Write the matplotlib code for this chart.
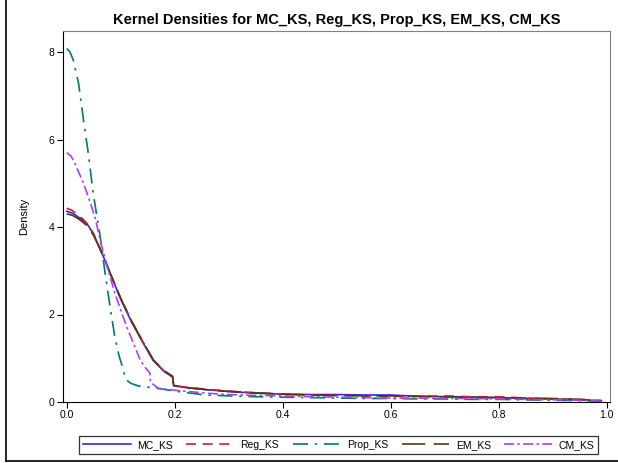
import numpy as np
import matplotlib.pyplot as plt
from matplotlib.lines import Line2D

plt.rcParams['font.family'] = ['Liberation Sans', 'DejaVu Sans']

# Estimated kernel density curves
main_x = [0.0, 0.01, 0.02, 0.03, 0.04, 0.05, 0.06, 0.07, 0.08, 0.09, 0.10, 0.12,
          0.14, 0.16, 0.18, 0.196, 0.198,
          0.22, 0.26, 0.30, 0.35, 0.40, 0.45, 0.50, 0.55, 0.60, 0.65, 0.70, 0.75,
          0.80, 0.85, 0.90, 0.95, 0.99]
mc_y = [4.36, 4.32, 4.24, 4.15, 4.03, 3.82, 3.55, 3.26, 2.95, 2.65, 2.35, 1.83,
        1.38, 0.95, 0.70, 0.57, 0.37,
        0.33, 0.28, 0.24, 0.20, 0.18, 0.17, 0.17, 0.16, 0.16, 0.13, 0.12, 0.11,
        0.10, 0.08, 0.07, 0.05, 0.03]
reg_y = [4.43, 4.38, 4.28, 4.18, 4.05, 3.84, 3.56, 3.27, 2.96, 2.66, 2.37, 1.85,
         1.40, 0.97, 0.71, 0.58, 0.38,
         0.34, 0.29, 0.25, 0.21, 0.18, 0.16, 0.15, 0.14, 0.13, 0.13, 0.14, 0.12,
         0.12, 0.09, 0.07, 0.06, 0.03]
em_y = [4.30, 4.27, 4.20, 4.11, 4.00, 3.80, 3.54, 3.26, 2.96, 2.66, 2.37, 1.85,
        1.40, 0.97, 0.72, 0.59, 0.38,
        0.33, 0.28, 0.24, 0.21, 0.18, 0.16, 0.15, 0.14, 0.14, 0.13, 0.12, 0.11,
        0.10, 0.09, 0.08, 0.06, 0.03]

prop_x = [0.0, 0.006, 0.012, 0.022, 0.031, 0.04, 0.049, 0.062, 0.071, 0.08, 0.089, 0.097,
          0.105, 0.109, 0.115, 0.12, 0.132, 0.15, 0.164, 0.20, 0.256, 0.30, 0.35, 0.40,
          0.45, 0.50, 0.55, 0.60, 0.65, 0.70, 0.75, 0.80, 0.85, 0.90, 0.95, 0.99]
prop_y = [8.08, 8.00, 7.82, 7.28, 6.45, 5.68, 4.77, 3.78, 2.95, 2.20, 1.49, 1.05,
          0.73, 0.52, 0.46, 0.42, 0.37, 0.34, 0.32, 0.25, 0.16, 0.14, 0.12, 0.11,
          0.10, 0.09, 0.08, 0.08, 0.07, 0.07, 0.06, 0.06, 0.05, 0.04, 0.03, 0.02]

cm_x = [0.0, 0.008, 0.015, 0.031, 0.04, 0.052, 0.065, 0.077, 0.089, 0.10, 0.111, 0.124,
        0.136, 0.146, 0.154, 0.155, 0.17, 0.20, 0.225, 0.26, 0.30, 0.35, 0.40,
        0.45, 0.50, 0.55, 0.60, 0.65, 0.70, 0.75, 0.80, 0.85, 0.90, 0.95, 0.99]
cm_y = [5.70, 5.62, 5.46, 5.00, 4.69, 4.24, 3.55, 3.00, 2.49, 2.10, 1.72, 1.33,
        0.96, 0.78, 0.66, 0.45, 0.31, 0.27, 0.24, 0.20, 0.17, 0.15, 0.14,
        0.12, 0.11, 0.10, 0.09, 0.09, 0.08, 0.08, 0.07, 0.06, 0.05, 0.04, 0.02]

labels = ['MC_KS', 'Reg_KS', 'Prop_KS', 'EM_KS', 'CM_KS']
colors = ['#2a2ae6', '#c8202e', '#007a6a', '#5c3510', '#a543ec']
styles = ['-', (0, (6, 4)), (0, (9, 4, 1.5, 4)), (0, (14, 5)), (0, (6, 2, 1.5, 2))]

fig = plt.figure(figsize=(6.18, 4.63), dpi=100)
ax = fig.add_axes([63 / 618, 1 - 402 / 463, 547 / 618, 371 / 463])

series = [(main_x, mc_y), (main_x, reg_y), (prop_x, prop_y), (main_x, em_y), (cm_x, cm_y)]
for (xs, ys), lab, c, ls in zip(series, labels, colors, styles):
    ax.plot(xs, ys, color=c, linestyle=ls, linewidth=1.2, label=lab)

ax.set_xlim(-0.0069, 1.006)
ax.set_ylim(0, 8.48)
ax.set_xticks([0.0, 0.2, 0.4, 0.6, 0.8, 1.0])
ax.set_xticklabels(['0.0', '0.2', '0.4', '0.6', '0.8', '1.0'])
ax.set_yticks([0, 2, 4, 6, 8])
ax.tick_params(labelsize=7.5, length=4, width=0.8, direction='out', pad=2)
ax.spines['left'].set_color('black')
ax.spines['bottom'].set_color('black')
ax.spines['top'].set_color('#808080')
ax.spines['right'].set_color('#808080')
ax.set_ylabel('Density', fontsize=8)
ax.yaxis.set_label_coords(-0.062, 0.5)
ax.set_title('Kernel Densities for MC_KS, Reg_KS, Prop_KS, EM_KS, CM_KS',
             fontsize=10.5, fontweight='bold', pad=5)

leg = fig.legend(loc='center', bbox_to_anchor=(338.5 / 618, 1 - 445 / 463), ncol=5,
                 fontsize=7.5, frameon=True, fancybox=False, handlelength=4.6,
                 columnspacing=1.3, handletextpad=0.6, borderpad=0.35)
leg.get_frame().set_edgecolor('black')
leg.get_frame().set_linewidth(0.9)

# outer border lines
fig.add_artist(Line2D([6 / 618, 6 / 618], [1 - 461 / 463, 1.0], color='black', linewidth=1.2))
fig.add_artist(Line2D([6 / 618, 1.0], [1 - 461 / 463, 1 - 461 / 463], color='black', linewidth=1.2))

fig.savefig('out.png', dpi=100)
